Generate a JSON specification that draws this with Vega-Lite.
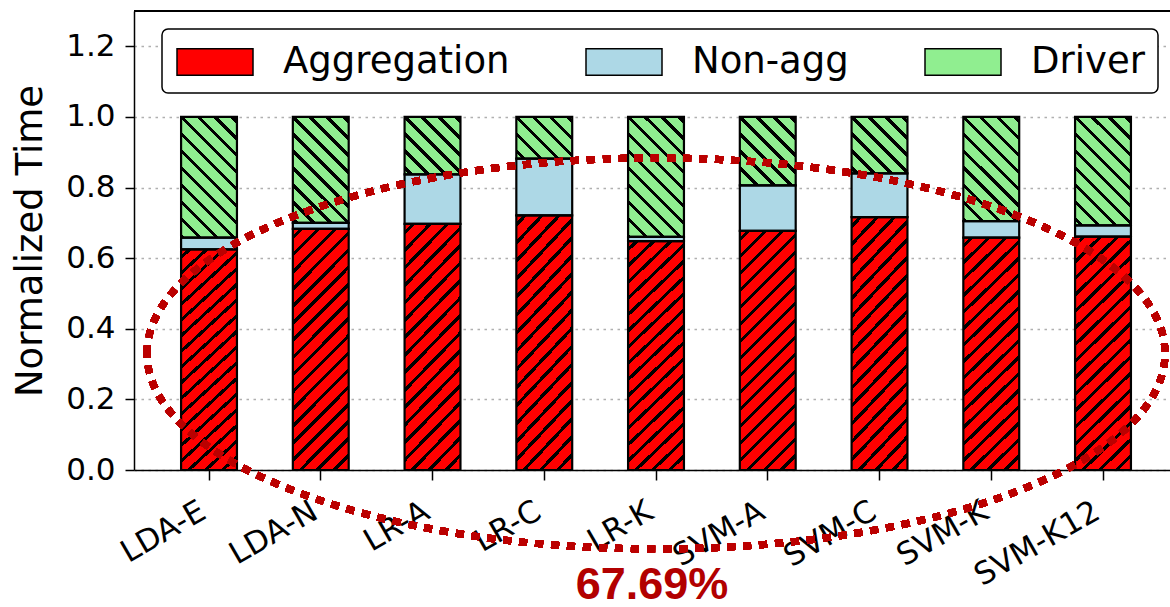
{
  "$schema": "https://vega.github.io/schema/vega-lite/v6.json",
  "width": 1036,
  "height": 459,
  "autosize": {"type": "none"},
  "padding": {"left": 134, "top": 11, "right": 0, "bottom": 137},
  "background": "white",
  "title": {"text": "67.69%", "orient": "bottom", "anchor": "middle", "frame": "group", "font": "Liberation Sans", "fontSize": 45, "fontWeight": "bold", "color": "#b20000", "offset": 8, "baseline": "alphabetic"},
  "config": {
    "font": "DejaVu Sans",
    "view": {"stroke": null},
    "axis": {"domainColor": "black", "domainWidth": 1.5, "tickColor": "black", "tickWidth": 1.5, "labelColor": "black", "titleColor": "black", "labelFont": "DejaVu Sans", "titleFont": "DejaVu Sans"},
    "legend": {
      "orient": "none", "legendX": 28, "legendY": 18, "direction": "horizontal",
      "padding": 13, "strokeColor": "black", "strokeWidth": 1.5, "cornerRadius": 6, "fillColor": "white",
      "labelFont": "DejaVu Sans", "labelFontSize": 37, "labelColor": "black", "labelLimit": 0,
      "symbolType": "M -2 -0.7 L 2 -0.7 L 2 0.7 L -2 0.7 Z", "symbolSize": 1444, "symbolOffset": 20,
      "symbolStrokeColor": "black", "symbolStrokeWidth": 1.5, "symbolOpacity": 1,
      "labelOffset": 48, "columnPadding": 73, "title": null
    }
  },
  "data": {"values": [
    {"bench": "LDA-E", "part": "Aggregation", "lo": 0, "hi": 0.625},
    {"bench": "LDA-E", "part": "Non-agg", "lo": 0.625, "hi": 0.658},
    {"bench": "LDA-E", "part": "Driver", "lo": 0.658, "hi": 1},
    {"bench": "LDA-N", "part": "Aggregation", "lo": 0, "hi": 0.683},
    {"bench": "LDA-N", "part": "Non-agg", "lo": 0.683, "hi": 0.700},
    {"bench": "LDA-N", "part": "Driver", "lo": 0.700, "hi": 1},
    {"bench": "LR-A", "part": "Aggregation", "lo": 0, "hi": 0.697},
    {"bench": "LR-A", "part": "Non-agg", "lo": 0.697, "hi": 0.837},
    {"bench": "LR-A", "part": "Driver", "lo": 0.837, "hi": 1},
    {"bench": "LR-C", "part": "Aggregation", "lo": 0, "hi": 0.721},
    {"bench": "LR-C", "part": "Non-agg", "lo": 0.721, "hi": 0.882},
    {"bench": "LR-C", "part": "Driver", "lo": 0.882, "hi": 1},
    {"bench": "LR-K", "part": "Aggregation", "lo": 0, "hi": 0.648},
    {"bench": "LR-K", "part": "Non-agg", "lo": 0.648, "hi": 0.660},
    {"bench": "LR-K", "part": "Driver", "lo": 0.660, "hi": 1},
    {"bench": "SVM-A", "part": "Aggregation", "lo": 0, "hi": 0.677},
    {"bench": "SVM-A", "part": "Non-agg", "lo": 0.677, "hi": 0.806},
    {"bench": "SVM-A", "part": "Driver", "lo": 0.806, "hi": 1},
    {"bench": "SVM-C", "part": "Aggregation", "lo": 0, "hi": 0.716},
    {"bench": "SVM-C", "part": "Non-agg", "lo": 0.716, "hi": 0.840},
    {"bench": "SVM-C", "part": "Driver", "lo": 0.840, "hi": 1},
    {"bench": "SVM-K", "part": "Aggregation", "lo": 0, "hi": 0.658},
    {"bench": "SVM-K", "part": "Non-agg", "lo": 0.658, "hi": 0.705},
    {"bench": "SVM-K", "part": "Driver", "lo": 0.705, "hi": 1},
    {"bench": "SVM-K12", "part": "Aggregation", "lo": 0, "hi": 0.661},
    {"bench": "SVM-K12", "part": "Non-agg", "lo": 0.661, "hi": 0.693},
    {"bench": "SVM-K12", "part": "Driver", "lo": 0.693, "hi": 1}
  ]},
  "encoding": {
    "x": {"field": "bench", "type": "nominal", "sort": null,
      "scale": {"paddingInner": 0.5, "paddingOuter": 0.3854, "align": 0.5466},
      "axis": {"title": null, "labelAngle": -30, "labelAlign": "right", "labelBaseline": "top", "labelOffset": -13, "labelPadding": 16, "tickSize": 10, "labelFontSize": 31, "grid": false}}
  },
  "layer": [
    {
      "mark": {"type": "bar"},
      "encoding": {
        "y": {"field": "hi", "type": "quantitative", "scale": {"domain": [0, 1.3], "nice": false},
          "axis": {"title": "Normalized Time", "values": [0, 0.2, 0.4, 0.6, 0.8, 1.0, 1.2], "format": ".1f", "tickSize": 9, "labelPadding": 10, "labelFontSize": 31, "titleFontSize": 37, "titleFontWeight": "normal", "titlePadding": 16, "grid": true, "gridDash": [2.5, 4.5], "gridColor": "#b0b0b0", "gridWidth": 1.5}},
        "y2": {"field": "lo"},
        "color": {"field": "part", "type": "nominal", "scale": {"domain": ["Aggregation", "Non-agg", "Driver"], "range": ["#ff0000", "#add8e6", "#90ee90"]}}
      }
    },
    {
      "transform": [{"filter": "datum.part === 'Driver'"}],
      "mark": {"type": "bar", "fill": {"gradient": "linear", "x1": 0, "y1": 1, "x2": 1, "y2": -5.326, "stops": [
        {"offset": 0, "color": "#90ee90"},
        {"offset": 0.0940, "color": "#90ee90"}, {"offset": 0.0940, "color": "#000000"}, {"offset": 0.0960, "color": "#000000"}, {"offset": 0.0960, "color": "#90ee90"},
        {"offset": 0.1014, "color": "#90ee90"}, {"offset": 0.1014, "color": "#000000"}, {"offset": 0.1034, "color": "#000000"}, {"offset": 0.1034, "color": "#90ee90"},
        {"offset": 0.1088, "color": "#90ee90"}, {"offset": 0.1088, "color": "#000000"}, {"offset": 0.1108, "color": "#000000"}, {"offset": 0.1108, "color": "#90ee90"},
        {"offset": 0.1162, "color": "#90ee90"}, {"offset": 0.1162, "color": "#000000"}, {"offset": 0.1182, "color": "#000000"}, {"offset": 0.1182, "color": "#90ee90"},
        {"offset": 0.1236, "color": "#90ee90"}, {"offset": 0.1236, "color": "#000000"}, {"offset": 0.1256, "color": "#000000"}, {"offset": 0.1256, "color": "#90ee90"},
        {"offset": 0.1311, "color": "#90ee90"}, {"offset": 0.1311, "color": "#000000"}, {"offset": 0.1331, "color": "#000000"}, {"offset": 0.1331, "color": "#90ee90"},
        {"offset": 0.1385, "color": "#90ee90"}, {"offset": 0.1385, "color": "#000000"}, {"offset": 0.1405, "color": "#000000"}, {"offset": 0.1405, "color": "#90ee90"},
        {"offset": 0.1459, "color": "#90ee90"}, {"offset": 0.1459, "color": "#000000"}, {"offset": 0.1479, "color": "#000000"}, {"offset": 0.1479, "color": "#90ee90"},
        {"offset": 0.1533, "color": "#90ee90"}, {"offset": 0.1533, "color": "#000000"}, {"offset": 0.1553, "color": "#000000"}, {"offset": 0.1553, "color": "#90ee90"},
        {"offset": 0.1607, "color": "#90ee90"}, {"offset": 0.1607, "color": "#000000"}, {"offset": 0.1627, "color": "#000000"}, {"offset": 0.1627, "color": "#90ee90"},
        {"offset": 0.1681, "color": "#90ee90"}, {"offset": 0.1681, "color": "#000000"}, {"offset": 0.1701, "color": "#000000"}, {"offset": 0.1701, "color": "#90ee90"},
        {"offset": 0.1755, "color": "#90ee90"}, {"offset": 0.1755, "color": "#000000"}, {"offset": 0.1775, "color": "#000000"}, {"offset": 0.1775, "color": "#90ee90"},
        {"offset": 1, "color": "#90ee90"}
      ]}},
      "encoding": {
        "y": {"field": "hi", "type": "quantitative", "scale": {"domain": [0, 1.3], "nice": false},
          "axis": {"title": "Normalized Time", "values": [0, 0.2, 0.4, 0.6, 0.8, 1.0, 1.2], "format": ".1f", "tickSize": 9, "labelPadding": 10, "labelFontSize": 31, "titleFontSize": 37, "titleFontWeight": "normal", "titlePadding": 16, "grid": true, "gridDash": [2.5, 4.5], "gridColor": "#b0b0b0", "gridWidth": 1.5}},
        "y2": {"datum": 0}
      }
    },
    {
      "transform": [{"filter": "datum.part === 'Non-agg'"}],
      "mark": {"type": "bar", "fill": "#add8e6"},
      "encoding": {
        "y": {"field": "hi", "type": "quantitative", "scale": {"domain": [0, 1.3], "nice": false},
          "axis": {"title": "Normalized Time", "values": [0, 0.2, 0.4, 0.6, 0.8, 1.0, 1.2], "format": ".1f", "tickSize": 9, "labelPadding": 10, "labelFontSize": 31, "titleFontSize": 37, "titleFontWeight": "normal", "titlePadding": 16, "grid": true, "gridDash": [2.5, 4.5], "gridColor": "#b0b0b0", "gridWidth": 1.5}},
        "y2": {"field": "lo"}
      }
    },
    {
      "transform": [{"filter": "datum.part === 'Aggregation'"}],
      "mark": {"type": "bar", "fill": {"gradient": "linear", "x1": 0, "y1": 0, "x2": 1, "y2": 4.28, "stops": [
        {"offset": 0, "color": "#ff0000"},
        {"offset": 0.0060, "color": "#ff0000"}, {"offset": 0.0060, "color": "#000000"}, {"offset": 0.0102, "color": "#000000"}, {"offset": 0.0102, "color": "#ff0000"},
        {"offset": 0.0217, "color": "#ff0000"}, {"offset": 0.0217, "color": "#000000"}, {"offset": 0.0259, "color": "#000000"}, {"offset": 0.0259, "color": "#ff0000"},
        {"offset": 0.0375, "color": "#ff0000"}, {"offset": 0.0375, "color": "#000000"}, {"offset": 0.0417, "color": "#000000"}, {"offset": 0.0417, "color": "#ff0000"},
        {"offset": 0.0532, "color": "#ff0000"}, {"offset": 0.0532, "color": "#000000"}, {"offset": 0.0574, "color": "#000000"}, {"offset": 0.0574, "color": "#ff0000"},
        {"offset": 0.0690, "color": "#ff0000"}, {"offset": 0.0690, "color": "#000000"}, {"offset": 0.0732, "color": "#000000"}, {"offset": 0.0732, "color": "#ff0000"},
        {"offset": 0.0847, "color": "#ff0000"}, {"offset": 0.0847, "color": "#000000"}, {"offset": 0.0889, "color": "#000000"}, {"offset": 0.0889, "color": "#ff0000"},
        {"offset": 0.1004, "color": "#ff0000"}, {"offset": 0.1004, "color": "#000000"}, {"offset": 0.1046, "color": "#000000"}, {"offset": 0.1046, "color": "#ff0000"},
        {"offset": 0.1162, "color": "#ff0000"}, {"offset": 0.1162, "color": "#000000"}, {"offset": 0.1204, "color": "#000000"}, {"offset": 0.1204, "color": "#ff0000"},
        {"offset": 0.1319, "color": "#ff0000"}, {"offset": 0.1319, "color": "#000000"}, {"offset": 0.1361, "color": "#000000"}, {"offset": 0.1361, "color": "#ff0000"},
        {"offset": 0.1477, "color": "#ff0000"}, {"offset": 0.1477, "color": "#000000"}, {"offset": 0.1519, "color": "#000000"}, {"offset": 0.1519, "color": "#ff0000"},
        {"offset": 0.1634, "color": "#ff0000"}, {"offset": 0.1634, "color": "#000000"}, {"offset": 0.1676, "color": "#000000"}, {"offset": 0.1676, "color": "#ff0000"},
        {"offset": 0.1791, "color": "#ff0000"}, {"offset": 0.1791, "color": "#000000"}, {"offset": 0.1833, "color": "#000000"}, {"offset": 0.1833, "color": "#ff0000"},
        {"offset": 0.1949, "color": "#ff0000"}, {"offset": 0.1949, "color": "#000000"}, {"offset": 0.1991, "color": "#000000"}, {"offset": 0.1991, "color": "#ff0000"},
        {"offset": 0.2106, "color": "#ff0000"}, {"offset": 0.2106, "color": "#000000"}, {"offset": 0.2148, "color": "#000000"}, {"offset": 0.2148, "color": "#ff0000"},
        {"offset": 0.2264, "color": "#ff0000"}, {"offset": 0.2264, "color": "#000000"}, {"offset": 0.2306, "color": "#000000"}, {"offset": 0.2306, "color": "#ff0000"},
        {"offset": 0.2421, "color": "#ff0000"}, {"offset": 0.2421, "color": "#000000"}, {"offset": 0.2463, "color": "#000000"}, {"offset": 0.2463, "color": "#ff0000"},
        {"offset": 0.2578, "color": "#ff0000"}, {"offset": 0.2578, "color": "#000000"}, {"offset": 0.2620, "color": "#000000"}, {"offset": 0.2620, "color": "#ff0000"},
        {"offset": 1, "color": "#ff0000"}
      ]}},
      "encoding": {
        "y": {"field": "hi", "type": "quantitative", "scale": {"domain": [0, 1.3], "nice": false},
          "axis": {"title": "Normalized Time", "values": [0, 0.2, 0.4, 0.6, 0.8, 1.0, 1.2], "format": ".1f", "tickSize": 9, "labelPadding": 10, "labelFontSize": 31, "titleFontSize": 37, "titleFontWeight": "normal", "titlePadding": 16, "grid": true, "gridDash": [2.5, 4.5], "gridColor": "#b0b0b0", "gridWidth": 1.5}},
        "y2": {"field": "lo"}
      }
    },
    {
      "mark": {"type": "bar", "fill": "transparent", "stroke": "black", "strokeWidth": 2.2},
      "encoding": {
        "y": {"field": "hi", "type": "quantitative", "scale": {"domain": [0, 1.3], "nice": false},
          "axis": {"title": "Normalized Time", "values": [0, 0.2, 0.4, 0.6, 0.8, 1.0, 1.2], "format": ".1f", "tickSize": 9, "labelPadding": 10, "labelFontSize": 31, "titleFontSize": 37, "titleFontWeight": "normal", "titlePadding": 16, "grid": true, "gridDash": [2.5, 4.5], "gridColor": "#b0b0b0", "gridWidth": 1.5}},
        "y2": {"field": "lo"}
      }
    },
    {
      "mark": {"type": "rule", "stroke": "black", "strokeWidth": 1.5},
      "encoding": {
        "x": null,
        "y": {"datum": 1.3, "type": "quantitative", "scale": {"domain": [0, 1.3], "nice": false},
          "axis": {"title": "Normalized Time", "values": [0, 0.2, 0.4, 0.6, 0.8, 1.0, 1.2], "format": ".1f", "tickSize": 9, "labelPadding": 10, "labelFontSize": 31, "titleFontSize": 37, "titleFontWeight": "normal", "titlePadding": 16, "grid": true, "gridDash": [2.5, 4.5], "gridColor": "#b0b0b0", "gridWidth": 1.5}}
      }
    },
    {
      "mark": {"type": "point", "shape": "M -1 0 C -1 -0.212 -0.5523 -0.384 0 -0.384 C 0.5523 -0.384 1 -0.212 1 0 C 1 0.212 0.5523 0.384 0 0.384 C -0.5523 0.384 -1 0.212 -1 0 Z", "size": 1036324, "filled": false, "stroke": "#bb0000", "strokeWidth": 7, "strokeDash": [8, 8], "opacity": 1},
      "encoding": {
        "x": {"datum": "LR-K"},
        "y": {"datum": 0.33, "type": "quantitative", "scale": {"domain": [0, 1.3], "nice": false},
          "axis": {"title": "Normalized Time", "values": [0, 0.2, 0.4, 0.6, 0.8, 1.0, 1.2], "format": ".1f", "tickSize": 9, "labelPadding": 10, "labelFontSize": 31, "titleFontSize": 37, "titleFontWeight": "normal", "titlePadding": 16, "grid": true, "gridDash": [2.5, 4.5], "gridColor": "#b0b0b0", "gridWidth": 1.5}}
      }
    }
  ]
}
